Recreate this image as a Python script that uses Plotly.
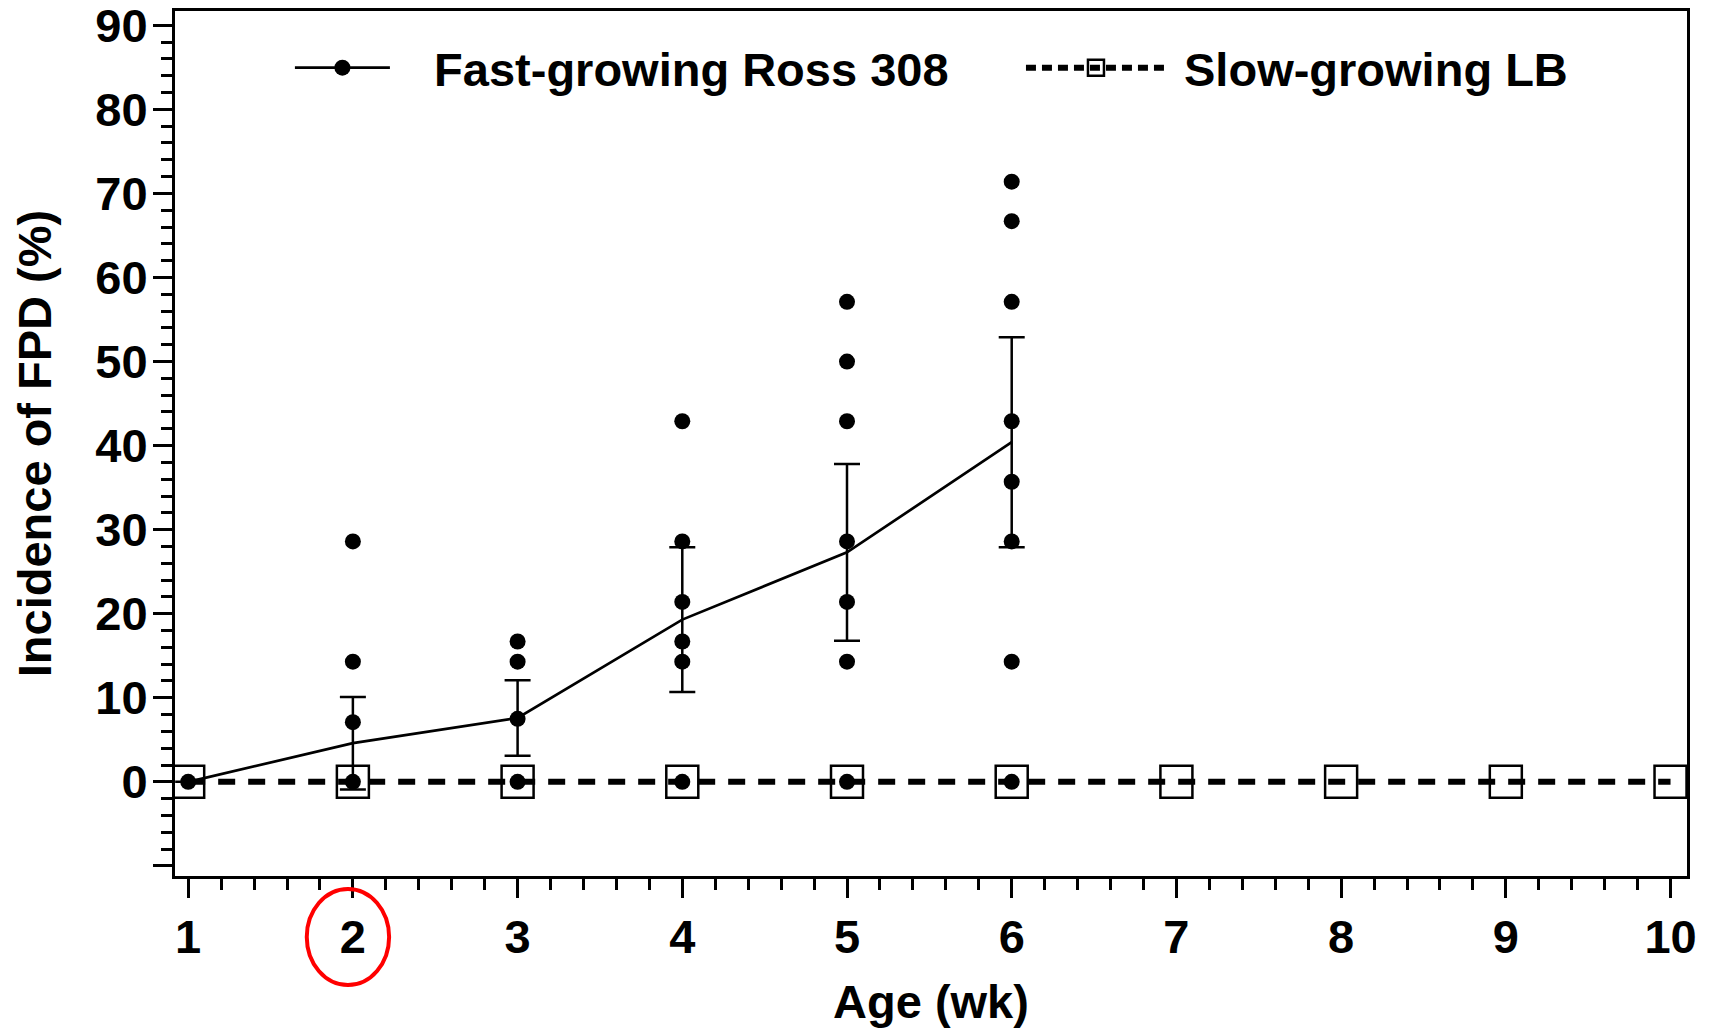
import plotly.graph_objects as go

# ---------------- data ----------------
weeks_fast = [1, 2, 3, 4, 5, 6]
fast_mean = [0.0, 4.6, 7.6, 19.3, 27.3, 40.4]
fast_err = [None, 5.5, 4.5, 8.6, 10.5, 12.5]

# individual observations of the fast-growing birds (week, incidence %)
pts_week = [1,
            2, 2, 2, 2,
            3, 3, 3, 3,
            4, 4, 4, 4, 4, 4,
            5, 5, 5, 5, 5, 5, 5,
            6, 6, 6, 6, 6, 6, 6, 6]
pts_value = [0.0,
             28.6, 14.3, 7.1, 0.0,
             16.7, 14.3, 7.5, 0.0,
             42.9, 28.6, 21.4, 16.7, 14.3, 0.0,
             57.1, 50.0, 42.9, 28.6, 21.4, 14.3, 0.0,
             71.4, 66.7, 57.1, 42.9, 35.7, 28.6, 14.3, 0.0]

weeks_slow = [1, 2, 3, 4, 5, 6, 7, 8, 9, 10]
slow_mean = [0, 0, 0, 0, 0, 0, 0, 0, 0, 0]

x_ticks = [1, 2, 3, 4, 5, 6, 7, 8, 9, 10]
y_ticks = [-10, 0, 10, 20, 30, 40, 50, 60, 70, 80, 90]
y_ticktext = ["", "0", "10", "20", "30", "40", "50", "60", "70", "80", "90"]

name_fast = "\u00a0\u00a0\u00a0Fast-growing Ross 308"
name_slow = "\u00a0Slow-growing LB"

FONT = "Liberation Sans, Arial, sans-serif"
FS = 47

fig = go.Figure()

# slow-growing: dashed thick line with open squares
fig.add_trace(go.Scatter(
    x=weeks_slow, y=slow_mean, mode="lines+markers", showlegend=False,
    line=dict(color="black", width=6, dash="17px,13px"),
    marker=dict(symbol="square-open", size=32, color="black", line=dict(width=2.5, color="black")),
))

# fast-growing individual points
fig.add_trace(go.Scatter(
    x=pts_week, y=pts_value, mode="markers", showlegend=False,
    marker=dict(symbol="circle", size=16, color="black"),
))

# fast-growing mean line with error bars
fig.add_trace(go.Scatter(
    x=weeks_fast, y=fast_mean, mode="lines", showlegend=False,
    line=dict(color="black", width=2.7),
    error_y=dict(type="data", array=fast_err, arrayminus=fast_err, visible=True,
                 color="black", thickness=2.5, width=13),
))

# legend entries (one per legend box)
fig.add_trace(go.Scatter(
    x=[None], y=[None], mode="lines+markers", name=name_fast, legend="legend",
    line=dict(color="black", width=2.7),
    marker=dict(symbol="circle", size=16, color="black"),
))
fig.add_trace(go.Scatter(
    x=[None], y=[None], mode="lines+markers", name=name_slow, legend="legend2",
    line=dict(color="black", width=6, dash="10px,6px"),
    marker=dict(symbol="square-open", size=32, color="black", line=dict(width=2.5, color="black")),
))

axis_common = dict(
    showgrid=False, zeroline=False, showline=True, linecolor="black", linewidth=3,
    mirror=True, ticks="outside", tickcolor="black", tickwidth=3, ticklen=19,
    automargin=False, ticklabeloverflow="allow",
    tickfont=dict(family=FONT, size=FS, color="black", weight="bold"),
)

fig.update_xaxes(
    **axis_common,
    range=[0.92, 10.1], tickmode="array", tickvals=x_ticks,
    ticklabelstandoff=-1,
    minor=dict(ticks="outside", dtick=0.2, tick0=0, ticklen=11, tickwidth=3, tickcolor="black"),
    title=dict(text="Age (wk)", font=dict(family=FONT, size=FS, color="black", weight="bold"), standoff=23),
)
fig.update_yaxes(
    **axis_common,
    range=[-11.2, 91.7], tickmode="array", tickvals=y_ticks, ticktext=y_ticktext,
    ticklabelstandoff=-4,
    minor=dict(ticks="outside", dtick=2, tick0=0, ticklen=11, tickwidth=3, tickcolor="black"),
    title=dict(text="Incidence of FPD (%)", font=dict(family=FONT, size=FS, color="black", weight="bold"), standoff=29),
)

# red highlight around the "2" tick label
fig.add_shape(type="circle", xref="x", yref="paper", x0=1.72, x1=2.22, y0=-0.126, y1=-0.015,
              line=dict(color="#ff0000", width=4), layer="above")

legend_font = dict(family=FONT, size=FS, color="black", weight="bold")
fig.update_layout(
    width=1711, height=1031,
    margin=dict(l=175, r=24, t=11, b=155, autoexpand=False),
    paper_bgcolor="white", plot_bgcolor="white",
    font=dict(family=FONT, size=FS, color="black"),
    showlegend=True,
    legend=dict(orientation="h", x=0.076, y=0.934, xanchor="left", yanchor="middle",
                itemwidth=95, font=legend_font, bgcolor="rgba(0,0,0,0)"),
    legend2=dict(orientation="h", x=0.5595, y=0.934, xanchor="left", yanchor="middle",
                 itemwidth=140, font=legend_font, bgcolor="rgba(0,0,0,0)"),
)

fig.write_html("out.html")
